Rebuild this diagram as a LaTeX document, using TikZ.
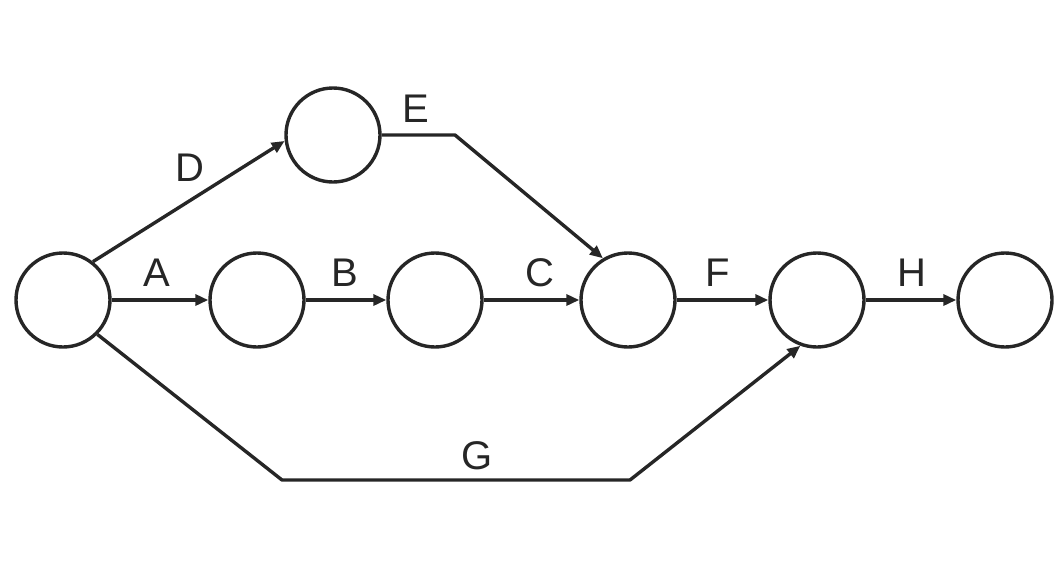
\documentclass[tikz,border=0pt]{standalone}
\usepackage{fontspec}
\setmainfont{Liberation Sans}
\usetikzlibrary{arrows.meta}
\begin{document}
\begin{tikzpicture}[x=1pt,y=-1pt,
  event/.style={circle,draw=black!85,line width=3.4pt,minimum size=94pt,inner sep=0pt},
  act/.style={draw=black!85,line width=3.4pt,line join=round,
    -{Triangle[length=13pt,width=11pt]}},
  lbl/.style={font=\fontsize{40}{42}\selectfont,text=black!85,inner sep=0pt}]
\useasboundingbox (0,0) rectangle (1062,576);
% events
\node[event] (n0) at (63,300) {};
\node[event] (n1) at (257,300) {};
\node[event] (n2) at (435,300) {};
\node[event] (n3) at (628,300) {};
\node[event] (n4) at (817,300) {};
\node[event] (n5) at (1005,300) {};
\node[event] (nt) at (333,135) {};
% bends of the long activities
\coordinate (e1) at (455,135);
\coordinate (g1) at (282,480);
\coordinate (g2) at (630,480);
% activities
\draw[act] (n0) -- (n1);
\draw[act] (n1) -- (n2);
\draw[act] (n2) -- (n3);
\draw[act] (n3) -- (n4);
\draw[act] (n4) -- (n5);
\draw[act] (n0.52) -- (nt.187);
\draw[act] (nt.east) -- (e1) -- (n3.121);
\draw[act] (n0.-45) -- (g1) -- (g2) -- (n4.-110);
% activity labels
\node[lbl] (la) at (157,273) {A};
\node[lbl] (lb) at (345,273) {B};
\node[lbl] (lc) at (540,273) {C};
\node[lbl] (lf) at (718,273) {F};
\node[lbl] (lh) at (912,273) {H};
\node[lbl] (ld) at (190,168) {D};
\node[lbl] (le) at (416,109) {E};
\node[lbl] (lg) at (477,456) {G};
\end{tikzpicture}
\end{document}
